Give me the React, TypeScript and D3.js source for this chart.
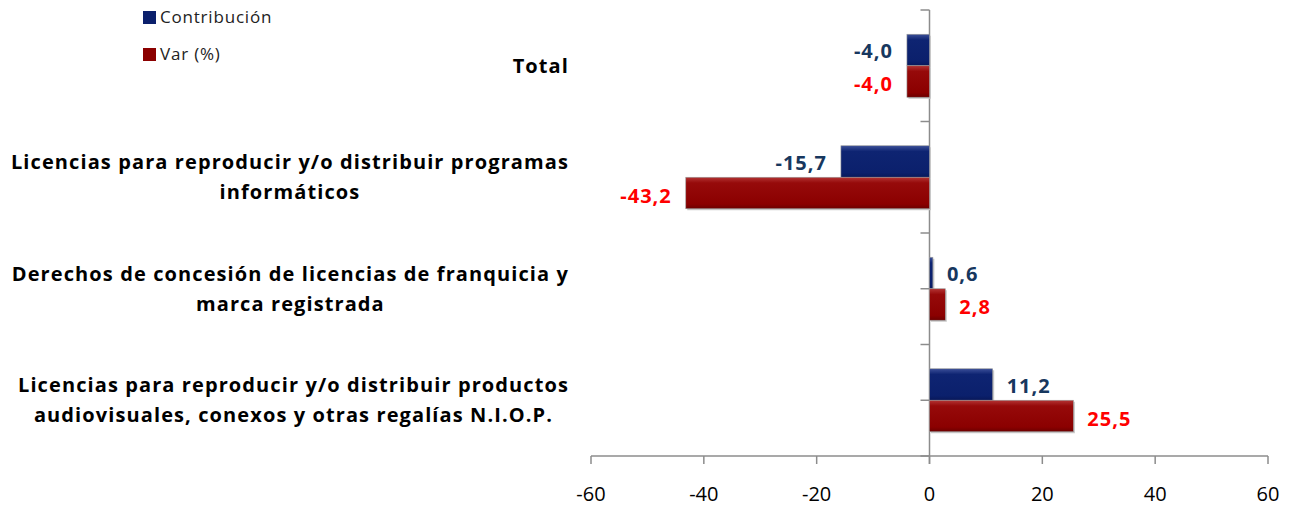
import { useEffect, useRef } from "react";
import * as d3 from "d3";

// chart data
const categories = ["total", "programas", "franquicia", "audiovisuales"];
const categoryLines = [
  ["Total"],
  ["Licencias para reproducir y/o distribuir programas", "informáticos"],
  ["Derechos de concesión de licencias de franquicia y", "marca registrada"],
  ["Licencias para reproducir y/o distribuir productos", "audiovisuales, conexos y otras regalías N.I.O.P."],
];
const seriesNames = ["Contribución", "Var (%)"];
const contribucion = [-4.0, -15.7, 0.6, 11.2];
const variacion = [-4.0, -43.2, 2.8, 25.5];
const xTicks = [-60, -40, -20, 0, 20, 40, 60];

export default function App() {
  const ref = useRef<SVGSVGElement>(null);

  useEffect(() => {
    document.body.style.margin = "0";
    const svg = d3.select(ref.current);
    svg.selectAll("*").remove();

    const font = "'Open Sans', 'Noto Sans', sans-serif";
    const blue = "#0b206c";
    const red = "#8b0000";
    const blueText = "#17375e";
    const redText = "#ff0000";
    const fmt = (v: number) => v.toFixed(1).replace(".", ",");

    const x = d3.scaleLinear().domain([-60, 60]).range([591, 1268]);
    const y = d3.scaleBand().domain(categories).range([10, 456]);
    const ySub = d3.scaleBand().domain(["c", "v"]).range([0, y.bandwidth()]).paddingOuter(0.77);

    const defs = svg.append("defs");
    const grad = (id: string, stops: string[]) => {
      const g = defs.append("linearGradient").attr("id", id)
        .attr("x1", "0%").attr("y1", "0%").attr("x2", "0%").attr("y2", "100%");
      [0, 0.18, 0.85, 1].forEach((o, i) =>
        g.append("stop").attr("offset", o).attr("stop-color", stops[i]));
    };
    grad("g-blue", ["#3b4f98", "#0e2472", blue, "#08185a"]);
    grad("g-red", ["#b33434", "#960a0a", red, "#6c0000"]);

    // category axis
    const axisX = x(0);
    svg.append("line")
      .attr("x1", axisX).attr("x2", axisX)
      .attr("y1", 10).attr("y2", 464)
      .attr("stroke", "#8c8c8c").attr("stroke-width", 1.5);
    const halfTicks: number[] = [];
    categories.forEach(c => {
      halfTicks.push(y(c)!);
      halfTicks.push(y(c)! + y.bandwidth() / 2);
    });
    halfTicks.push(456);
    svg.selectAll(".ytick").data(halfTicks).enter().append("line")
      .attr("x1", axisX - 9).attr("x2", axisX)
      .attr("y1", d => d).attr("y2", d => d)
      .attr("stroke", "#8c8c8c").attr("stroke-width", 1.5);

    // value axis
    svg.append("line")
      .attr("x1", x(-60)).attr("x2", x(60))
      .attr("y1", 456).attr("y2", 456)
      .attr("stroke", "#8c8c8c").attr("stroke-width", 1.5);
    const xt = svg.selectAll(".xtick").data(xTicks).enter().append("g");
    xt.append("line")
      .attr("x1", d => x(d)).attr("x2", d => x(d))
      .attr("y1", 456).attr("y2", 464)
      .attr("stroke", "#8c8c8c").attr("stroke-width", 1.5);
    xt.append("text")
      .attr("x", d => x(d)).attr("y", 501)
      .attr("text-anchor", "middle")
      .style("font-family", font).style("font-size", "20px")
      .attr("fill", "#000")
      .text(d => String(d));

    // bars
    const series = [
      { key: "c", values: contribucion, fill: "url(#g-blue)", text: blueText },
      { key: "v", values: variacion, fill: "url(#g-red)", text: redText },
    ];
    series.forEach(s => {
      s.values.forEach((v, i) => {
        const by = y(categories[i])! + ySub(s.key)!;
        const bh = ySub.bandwidth();
        const x0 = Math.min(x(0), x(v));
        const w = Math.abs(x(v) - x(0));
        svg.append("rect")
          .attr("x", x0 + 1.5).attr("y", by + 1.5)
          .attr("width", Math.max(w, 1.5)).attr("height", bh)
          .attr("fill", "#c8c8c8");
        svg.append("rect")
          .attr("x", x0).attr("y", by)
          .attr("width", Math.max(w, 1.5)).attr("height", bh)
          .attr("fill", s.fill)
          .attr("stroke", "#9a9a9a").attr("stroke-width", 0.6);
        const off = 14;
        svg.append("text")
          .attr("x", v < 0 ? x(v) - off : x(v) + off)
          .attr("y", by + bh / 2 + (s.key === "v" ? 3 : 1))
          .attr("dy", "0.35em")
          .attr("text-anchor", v < 0 ? "end" : "start")
          .style("font-family", font).style("font-size", "20px").style("font-weight", "bold")
          .style("letter-spacing", "1px")
          .attr("fill", s.text)
          .text(fmt(v));
      });
    });

    // category labels
    const rightEdge = 569;
    categories.forEach((c, i) => {
      const lines = categoryLines[i];
      const g = svg.append("g");
      const texts = lines.map((ln, j) =>
        g.append("text")
          .attr("y", y(c)! + y.bandwidth() / 2 + (j - (lines.length - 1) / 2) * 30)
          .attr("dy", "0.35em")
          .attr("text-anchor", "middle")
          .style("font-family", font).style("font-size", "20px").style("font-weight", "bold")
          .style("letter-spacing", "1.1px")
          .attr("fill", "#000")
          .text(ln));
      const maxW = d3.max(texts, t => (t.node() as SVGTextElement).getComputedTextLength()) || 0;
      texts.forEach(t => t.attr("x", rightEdge - maxW / 2));
    });

    // legend
    const legend = svg.append("g");
    seriesNames.forEach((name, i) => {
      legend.append("rect")
        .attr("x", 143).attr("y", 11 + i * 37)
        .attr("width", 13).attr("height", 13)
        .attr("fill", i === 0 ? blue : red);
      legend.append("text")
        .attr("x", 160).attr("y", 17.5 + i * 37)
        .attr("dy", "0.35em")
        .style("font-family", font).style("font-size", "17px")
        .style("letter-spacing", "0.8px")
        .attr("fill", "#222")
        .text(name);
    });
  }, []);

  return <svg ref={ref} width={1294} height={506} style={{ display: "block", background: "#fff" }} />;
}
